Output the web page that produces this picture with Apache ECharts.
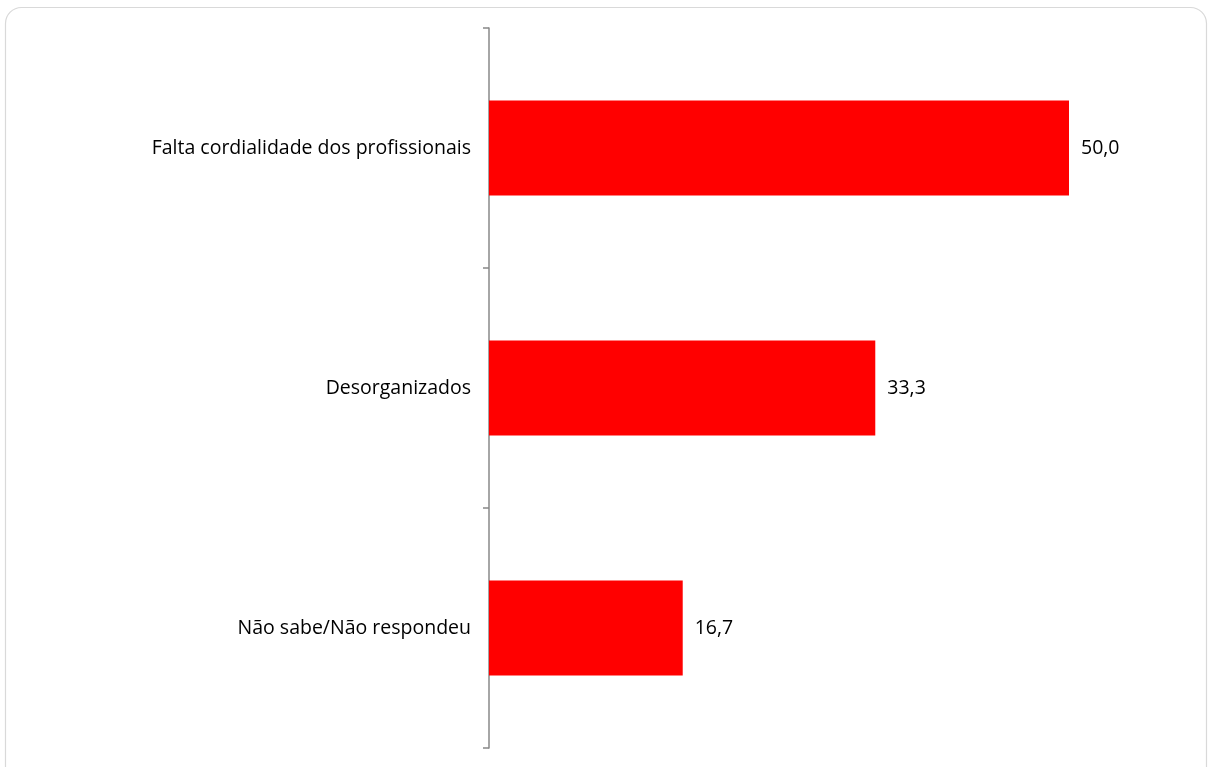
<!DOCTYPE html>
<html><head><meta charset="utf-8">
<script src="https://cdn.jsdelivr.net/npm/echarts@6/dist/echarts.min.js"></script>
<style>html,body{margin:0;padding:0;background:#fff}#c{width:1209px;height:767px}</style>
</head><body><div id="c"></div>
<script>
const categories = ['Falta cordialidade dos profissionais', 'Desorganizados', 'Não sabe/Não respondeu'];
const values = [50.0, 33.3, 16.7];

const chart = echarts.init(document.getElementById('c'));
chart.setOption({
  animation: false,
  graphic: [{
    type: 'rect', shape: {x: 5.5, y: 7.5, width: 1201, height: 820, r: 16},
    style: {fill: 'none', stroke: '#d9d9d9', lineWidth: 1.2}, z: -1
  }],
  grid: {left: 489, top: 28, width: 696, height: 720},
  xAxis: {type: 'value', min: 0, max: 60, show: false},
  yAxis: {
    type: 'category', data: categories, inverse: true,
    axisLine: {lineStyle: {color: '#888', width: 1.5}},
    axisTick: {show: true, length: 6, lineStyle: {color: '#888', width: 1.5}},
    axisLabel: {color: '#000', fontSize: 19.5, fontFamily: 'Open Sans', margin: 18}
  },
  series: [{
    type: 'bar', data: values, barWidth: 95,
    itemStyle: {color: '#ff0000'},
    label: {show: true, position: 'right', distance: 12, color: '#000', fontSize: 19.5, fontFamily: 'Open Sans',
      formatter: p => p.value.toFixed(1).replace('.', ',')}
  }]
});
</script></body></html>
